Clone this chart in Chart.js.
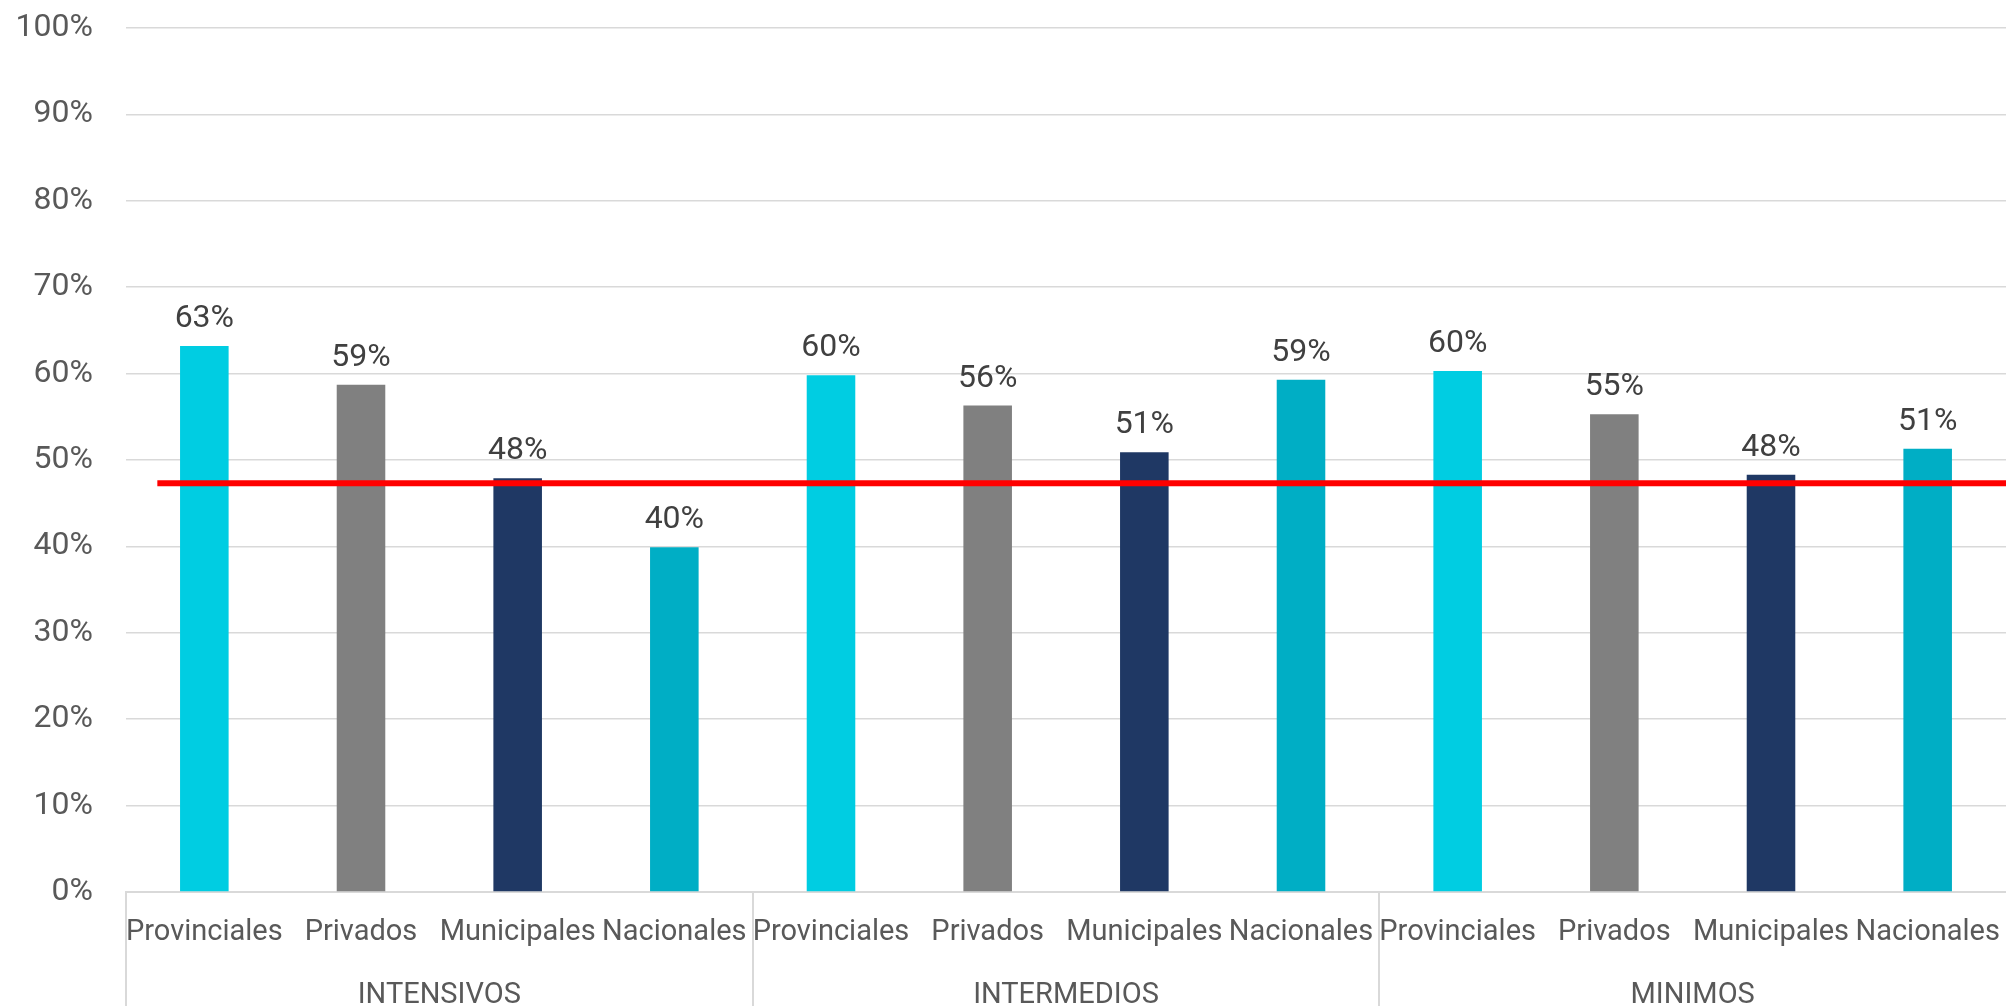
<!DOCTYPE html>
<html>
<head>
<meta charset="utf-8">
<script src="https://cdn.jsdelivr.net/npm/chart.js@4"></script>
<style>
    body { margin: 0; background: #fff; }
    #wrap { width: 2006px; height: 1006px; position: relative; }
</style>
</head>
<body>
<div id="wrap"><canvas id="grafico"></canvas></div>
<script>
// Datos
const grupos = ['INTENSIVOS', 'INTERMEDIOS', 'MINIMOS'];
const tipos = ['Provinciales', 'Privados', 'Municipales', 'Nacionales'];
const intensivos = [63.2, 58.7, 47.9, 39.9];
const intermedios = [59.8, 56.3, 50.9, 59.3];
const minimos = [60.3, 55.3, 48.3, 51.3];
const promedio = 47.3;
const inicioPromedio = 0.2; // en anchos de categoria
const yTicks = [0, 10, 20, 30, 40, 50, 60, 70, 80, 90, 100];

const coloresTipo = ['#00CDE2', '#808080', '#1F3864', '#00AEC5'];

// Una categoria por barra
const etiquetas = [...tipos, ...tipos, ...tipos];
const valores = [...intensivos, ...intermedios, ...minimos];
const colores = [...coloresTipo, ...coloresTipo, ...coloresTipo];

const FUENTE = 'Roboto, "Noto Sans", sans-serif';

// Etiquetas de valor encima de cada barra
const etiquetasValor = {
    id: 'etiquetasValor',
    afterDatasetsDraw(chart) {
        const ctx = chart.ctx;
        const idx = chart.data.datasets.findIndex(d => d.type === 'bar');
        const meta = chart.getDatasetMeta(idx);
        ctx.save();
        ctx.font = '32px ' + FUENTE;
        ctx.fillStyle = '#404040';
        ctx.textAlign = 'center';
        ctx.textBaseline = 'alphabetic';
        meta.data.forEach((bar, i) => {
            ctx.fillText(Math.round(valores[i]) + '%', bar.x, bar.y - 19);
        });
        ctx.restore();
    }
};

new Chart(document.getElementById('grafico'), {
    type: 'bar',
    data: {
        labels: etiquetas,
        datasets: [
            {
                // primero en la lista: se dibuja encima de las barras
                type: 'line',
                label: 'Promedio',
                data: [{ x: inicioPromedio, y: promedio }, { x: etiquetas.length, y: promedio }],
                xAxisID: 'xLinea',
                borderColor: '#FF0000',
                borderWidth: 6,
                pointRadius: 0,
                fill: false
            },
            {
                type: 'bar',
                label: 'Porcentaje',
                data: valores,
                backgroundColor: colores,
                categoryPercentage: 1,
                barPercentage: 0.31,
                grouped: false,
                xAxisID: 'x'
            }
        ]
    },
    options: {
        responsive: true,
        maintainAspectRatio: false,
        animation: false,
        layout: { padding: { top: 28, left: 16, right: 0, bottom: 0 } },
        plugins: {
            legend: { display: false },
            tooltip: { enabled: false }
        },
        scales: {
            x: {
                type: 'category',
                offset: true,
                grid: {
                    offset: true,
                    drawOnChartArea: false,
                    tickLength: 114,
                    lineWidth: 2,
                    color: c => (c.index % tipos.length === 0 && c.index < etiquetas.length) ? '#D9D9D9' : 'rgba(0,0,0,0)'
                },
                border: { color: '#D9D9D9', width: 2 },
                ticks: {
                    padding: -91,
                    autoSkip: false,
                    maxRotation: 0,
                    color: '#595959',
                    font: { family: FUENTE, size: 29 }
                },
                afterFit: s => { s.height = 57; }
            },
            xGrupo: {
                type: 'category',
                labels: grupos,
                position: 'bottom',
                offset: true,
                grid: { display: false },
                border: { display: false },
                ticks: {
                    padding: 24,
                    color: '#595959',
                    font: { family: FUENTE, size: 29, lineHeight: 1.0 }
                },
                afterFit: s => { s.height = 57; }
            },
            xLinea: {
                type: 'linear',
                display: false,
                offset: false,
                min: 0,
                max: etiquetas.length
            },
            y: {
                min: 0,
                max: 100,
                afterBuildTicks: scale => { scale.ticks = yTicks.map(v => ({ value: v })); },
                grid: {
                    color: '#D9D9D9',
                    lineWidth: 1.5,
                    drawTicks: true,
                    tickLength: 33,
                    tickColor: 'rgba(0,0,0,0)'
                },
                border: { display: false },
                ticks: {
                    padding: 0,
                    color: '#595959',
                    font: { family: FUENTE, size: 32 },
                    callback: v => v + '%'
                },
                afterFit: s => { s.width = 110; }
            }
        }
    },
    plugins: [etiquetasValor]
});
</script>
</body>
</html>
